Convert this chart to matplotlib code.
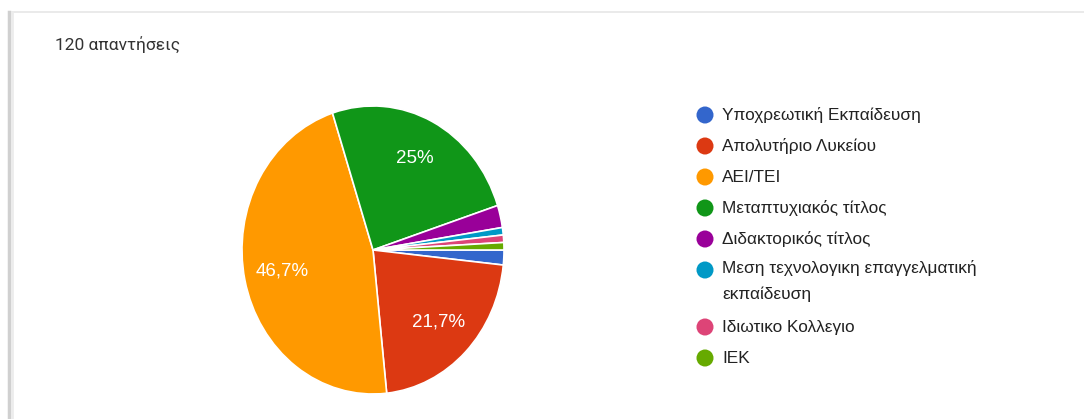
import matplotlib.pyplot as plt

# Data: education level, 120 responses
categories = [
    'Υποχρεωτική Εκπαίδευση',
    'Απολυτήριο Λυκείου',
    'ΑΕΙ/ΤΕΙ',
    'Μεταπτυχιακός τίτλος',
    'Διδακτορικός τίτλος',
    'Μεση τεχνολογικη επαγγελματική\nεκπαίδευση',
    'Ιδιωτικο Κολλεγιο',
    'ΙΕΚ',
]
counts = [2, 26, 56, 30, 3, 1, 1, 1]
colors = ['#3366CC', '#DC3912', '#FF9900', '#109618',
          '#990099', '#0099C6', '#DD4477', '#66AA00']
title = '120 απαντήσεις'

W, H = 1084, 419
fig = plt.figure(figsize=(W / 100, H / 100), dpi=100)
fig.patch.set_facecolor('white')
arial = ['Liberation Sans', 'DejaVu Sans']


def fmt_pct(p):
    if p < 5:
        return ''
    s = f'{p:.1f}'
    if s.endswith('.0'):
        s = s[:-2]
    return s.replace('.', ',') + '%'


# pie as a slightly tall ellipse (screenshot is stretched vertically)
cx, cy, rx, ry = 373, 250, 131, 144
ax = fig.add_axes([(cx - rx) / W, (H - cy - ry) / H, 2 * rx / W, 2 * ry / H])
ax.pie(counts, colors=colors, startangle=0, counterclock=False,
       autopct=fmt_pct, pctdistance=0.71,
       wedgeprops=dict(edgecolor='white', linewidth=1.2),
       textprops=dict(color='white', fontsize=13.5, family=arial))
ax.set_aspect('auto')
ax.set_xlim(-1, 1)
ax.set_ylim(-1, 1)
ax.axis('off')

# overlay in pixel coordinates for card, title and legend
ov = fig.add_axes([0, 0, 1, 1], zorder=-1)
ov.set_xlim(0, W)
ov.set_ylim(H, 0)
ov.axis('off')

# card edges / shadow
ov.plot([10, W], [12, 12], color='#e6e6e6', lw=1.2)
ov.plot([9, 9], [12, H], color='#d0d0d0', lw=2.5)
ov.plot([11.5, 11.5], [12, H], color='#ececec', lw=2)

fig.text(55 / W, 1 - 45 / H, title, fontsize=12.5, color='#333333',
         family=['Roboto', 'DejaVu Sans'], va='center', ha='left')

leg = fig.add_axes([0, 0, 1, 1])
leg.set_xlim(0, W)
leg.set_ylim(H, 0)
leg.axis('off')
y = 115
for lab, col in zip(categories, colors):
    leg.scatter([705], [y], s=150, color=col, edgecolors='none')
    if '\n' in lab:
        leg.text(722, y - 10, lab, fontsize=12.4, color='#222222', va='top',
                 ha='left', family=arial, linespacing=1.8)
        y += 57
    else:
        leg.text(722, y, lab, fontsize=12.4, color='#222222', va='center',
                 ha='left', family=arial)
        y += 31

fig.savefig('out.png', dpi=100, facecolor='white')
